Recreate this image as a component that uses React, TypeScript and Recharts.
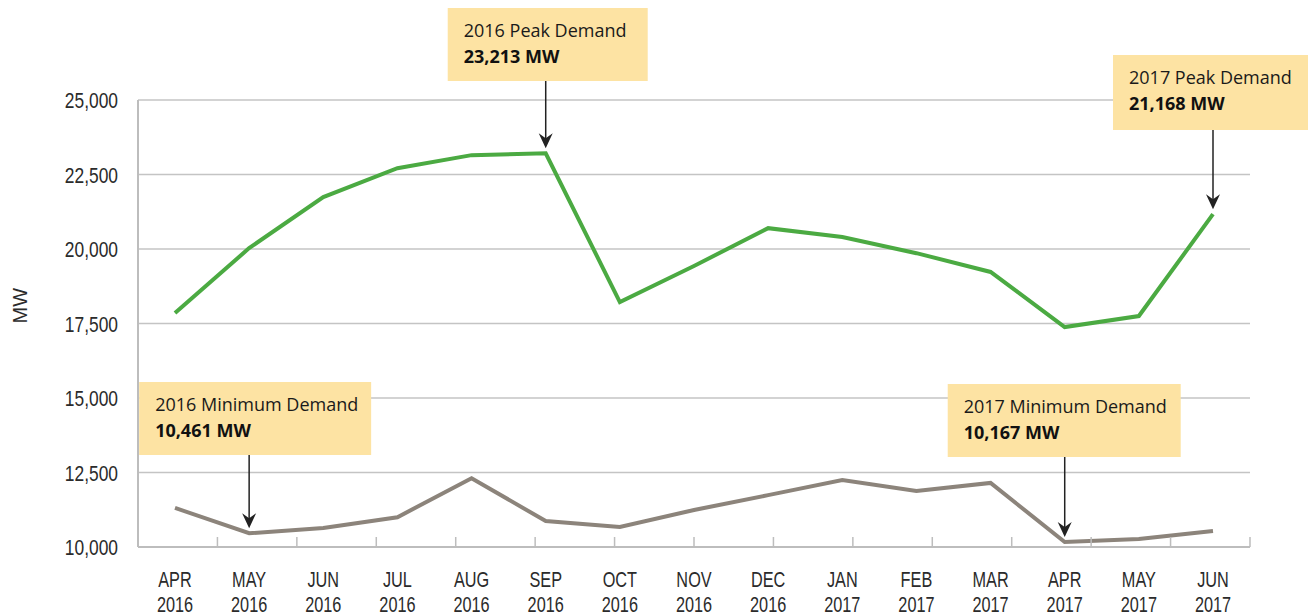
import { CartesianGrid, Line, LineChart, ReferenceDot, ReferenceLine, XAxis, YAxis } from 'recharts'

const months = [
  'APR 2016', 'MAY 2016', 'JUN 2016', 'JUL 2016', 'AUG 2016', 'SEP 2016', 'OCT 2016', 'NOV 2016',
  'DEC 2016', 'JAN 2017', 'FEB 2017', 'MAR 2017', 'APR 2017', 'MAY 2017', 'JUN 2017',
]
const peakDemand = [17850, 20030, 21740, 22710, 23150, 23213, 18220, 19430, 20700, 20400, 19860, 19230, 17380, 17750, 21168]
const minDemand = [11310, 10461, 10640, 11000, 12310, 10870, 10670, 11240, 11740, 12250, 11880, 12150, 10167, 10270, 10540]
const yTicks = [10000, 12500, 15000, 17500, 20000, 22500, 25000]

// 카테고리 사이 경계 눈금
const boundaries = months.slice(1).map((_, i) => i + 1)

const notes = [
  { x: 'SEP 2016', y: 23213, title: '2016 Peak Demand', value: '23,213 MW', dx: -98, top: 8, w: 200, h: 73 },
  { x: 'JUN 2017', y: 21168, title: '2017 Peak Demand', value: '21,168 MW', dx: -100, top: 55, w: 197, h: 75 },
  { x: 'MAY 2016', y: 10461, title: '2016 Minimum Demand', value: '10,461 MW', dx: -110, top: 382, w: 232, h: 73 },
  { x: 'APR 2017', y: 10167, title: '2017 Minimum Demand', value: '10,167 MW', dx: -117, top: 384, w: 233, h: 73 },
]

const data = months.map((m, i) => ({ month: m, peak: peakDemand[i], min: minDemand[i] }))

const AXIS_FONT = '"Liberation Sans", Arial, sans-serif'
const NOTE_FONT = '"Open Sans", "Noto Sans", sans-serif'

function MonthTick(props: any) {
  const { x, payload } = props
  const [mon, yr] = String(payload.value).split(' ')
  return (
    <g transform={`translate(${x},0) scale(0.74,1)`}>
      <text x={0} y={587} textAnchor="middle" fill="#2b2b2b" fontSize={22} fontFamily={AXIS_FONT}>{mon}</text>
      <text x={0} y={612} textAnchor="middle" fill="#2b2b2b" fontSize={22} fontFamily={AXIS_FONT}>{yr}</text>
    </g>
  )
}

function ValueTick(props: any) {
  const { x, y, payload } = props
  return (
    <g transform={`translate(${x},${y}) scale(0.79,1)`}>
      <text x={0} y={8} textAnchor="end" fill="#2b2b2b" fontSize={22} fontFamily={AXIS_FONT}>
        {Number(payload.value).toLocaleString('en-US')}
      </text>
    </g>
  )
}

function makeNote(n: (typeof notes)[number]) {
  return (props: any) => {
    const { cx, cy } = props
    if (cx == null || cy == null) return <g />
    const left = cx + n.dx
    const bottom = n.top + n.h
    const tipY = cy - 5
    return (
      <g>
        <rect x={left} y={n.top} width={n.w} height={n.h} fill="#FDE3A3" />
        <text x={left + 16} y={n.top + 29} fontSize={18} fill="#1a1a1a" fontFamily={NOTE_FONT}>{n.title}</text>
        <text x={left + 16} y={n.top + 55} fontSize={18} fontWeight={700} fill="#111" fontFamily={NOTE_FONT}>{n.value}</text>
        <line x1={cx} y1={bottom} x2={cx} y2={tipY - 4} stroke="#222" strokeWidth={1.5} />
        <path d={`M${cx},${tipY} L${cx - 7},${tipY - 15} L${cx},${tipY - 10} L${cx + 7},${tipY - 15} Z`} fill="#222" />
      </g>
    )
  }
}

export default function App() {
  return (
    <div style={{ position: 'absolute', left: 0, top: 0, width: 1308, height: 616, background: '#fff' }}>
      <LineChart width={1308} height={616} data={data} margin={{ top: 100, right: 58, bottom: 0, left: 0 }}>
        <CartesianGrid vertical={false} stroke="#c4c4c4" strokeWidth={1.5} />
        <XAxis
          dataKey="month"
          interval={0}
          height={69}
          padding={{ left: 37, right: 37 }}
          tickLine={false}
          axisLine={{ stroke: '#bdbdbd', strokeWidth: 2 }}
          tick={<MonthTick />}
        />
        <XAxis
          xAxisId="b"
          type="number"
          domain={[0, months.length]}
          allowDataOverflow
          ticks={boundaries}
          interval={0}
          mirror
          axisLine={false}
          tickSize={10}
          tickLine={{ stroke: '#bdbdbd', strokeWidth: 1.5 }}
          tick={() => <g />}
        />
        <YAxis
          domain={[10000, 25000]}
          ticks={yTicks}
          width={138}
          tickLine={false}
          tickSize={0}
          tickMargin={20}
          axisLine={{ stroke: '#bdbdbd', strokeWidth: 2 }}
          tick={<ValueTick />}
          label={{ value: 'MW', angle: -90, position: 'insideLeft', offset: 20, fill: '#2b2b2b', fontSize: 20, fontFamily: AXIS_FONT }}
        />
        <ReferenceLine xAxisId="b" x={months.length} stroke="#bdbdbd" strokeWidth={2} />
        <Line dataKey="peak" stroke="#4BAA42" strokeWidth={4} dot={false} isAnimationActive={false} />
        <Line dataKey="min" stroke="#8C847B" strokeWidth={4} dot={false} isAnimationActive={false} />
        {notes.map(n => (
          <ReferenceDot key={n.title} x={n.x} y={n.y} ifOverflow="visible" shape={makeNote(n)} />
        ))}
      </LineChart>
    </div>
  )
}
